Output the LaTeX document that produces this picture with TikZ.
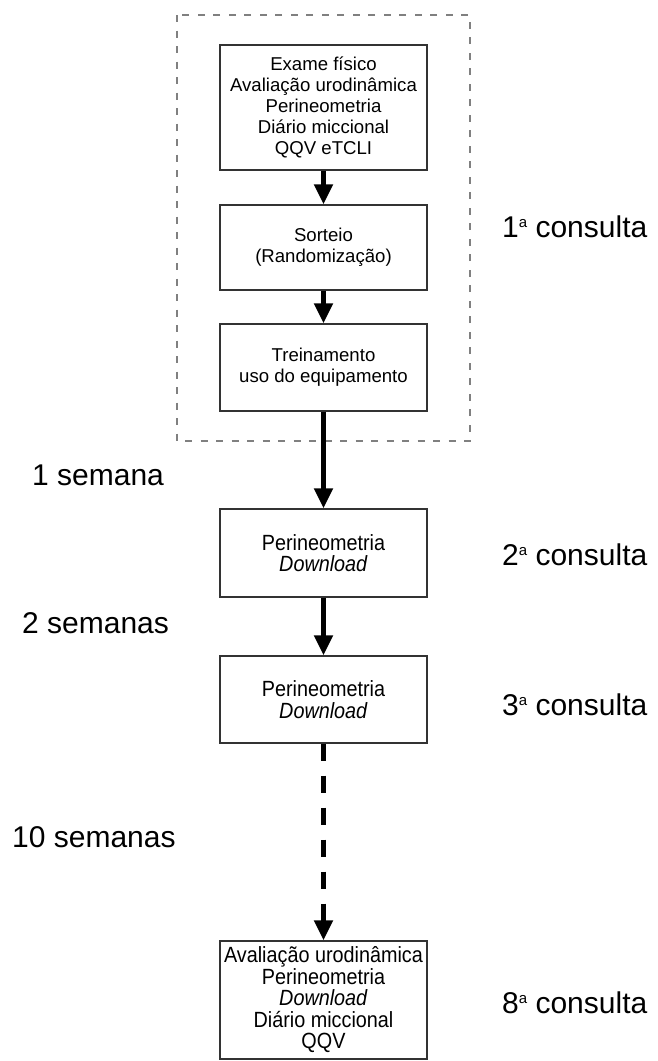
\documentclass[tikz,border=0pt]{standalone}
\usepackage{fontspec}
\setmainfont{Liberation Sans}
\newfontfamily\narrowsf[FakeStretch=0.9]{Liberation Sans}
\usepackage{tikz}
\usetikzlibrary{arrows.meta,positioning}

\newcommand{\ordsup}{\raisebox{10pt}{\fontsize{15}{15}\selectfont a}}

\begin{document}
\begin{tikzpicture}[
  x=1pt, y=-1pt,
  mybox/.style={
    draw=black!80,
    line width=1.3pt,
    rectangle,
    minimum width=207pt,
    minimum height=#1,
    inner sep=0pt,
    align=center
    },
  bigfont/.style={font=\fontsize{18.6}{21.2}\selectfont},
  smallfont/.style={font=\narrowsf\fontsize{22}{21.5}\selectfont},
  mylabel/.style={
    anchor=west,
    inner sep=0pt,
    font=\fontsize{30}{32}\selectfont
    },
  myarrow/.style={
    line width=5pt,
    -{Triangle[length=20pt,width=18pt]}
  }
]

\useasboundingbox (0,0) rectangle (657,1061);

% first visit
\draw[gray, line width=1.3pt, dash pattern=on 7pt off 8.5pt] (177,15) rectangle (470,441);

\node[mybox=125pt, bigfont] (exame) at (323.5,107.5)
  {Exame físico\\Avaliação urodinâmica\\Perineometria\\Diário miccional\\QQV eTCLI};
\node[mybox=85pt, bigfont] (sorteio) at (323.5,247.5)
  {Sorteio\\(Randomização)};
\node[mybox=87pt, bigfont] (treino) at (323.5,367.5)
  {Treinamento\\uso do equipamento};

% later visits
\node[mybox=88pt, smallfont] (perin2) at (323.5,553)
  {Perineometria\\\textit{Download}};
\node[mybox=87pt, smallfont] (perin3) at (323.5,699.5)
  {Perineometria\\\textit{Download}};
\node[mybox=118pt, smallfont] (final) at (323.5,1000)
  {Avaliação urodinâmica\\Perineometria\\\textit{Download}\\Diário miccional\\QQV};

\draw[myarrow] (exame) -- (sorteio);
\draw[myarrow] (sorteio) -- (treino);
\draw[myarrow] (treino) -- (perin2);
\draw[myarrow] (perin2) -- (perin3);
\draw[myarrow, dash pattern=on 17pt off 15pt] (perin3) -- (final);

% intervals
\node[mylabel] (sem1) at (32,475) {1 semana};
\node[mylabel] (sem2) at (22,623) {2 semanas};
\node[mylabel] (sem10) at (12,837) {10 semanas};

% visits
\foreach \Num/\Ypos in {1/227, 2/555, 3/705, 8/1003}
  \node[mylabel] (cons\Num) at (502,\Ypos) {\Num\ordsup\ consulta};

\end{tikzpicture}
\end{document}
